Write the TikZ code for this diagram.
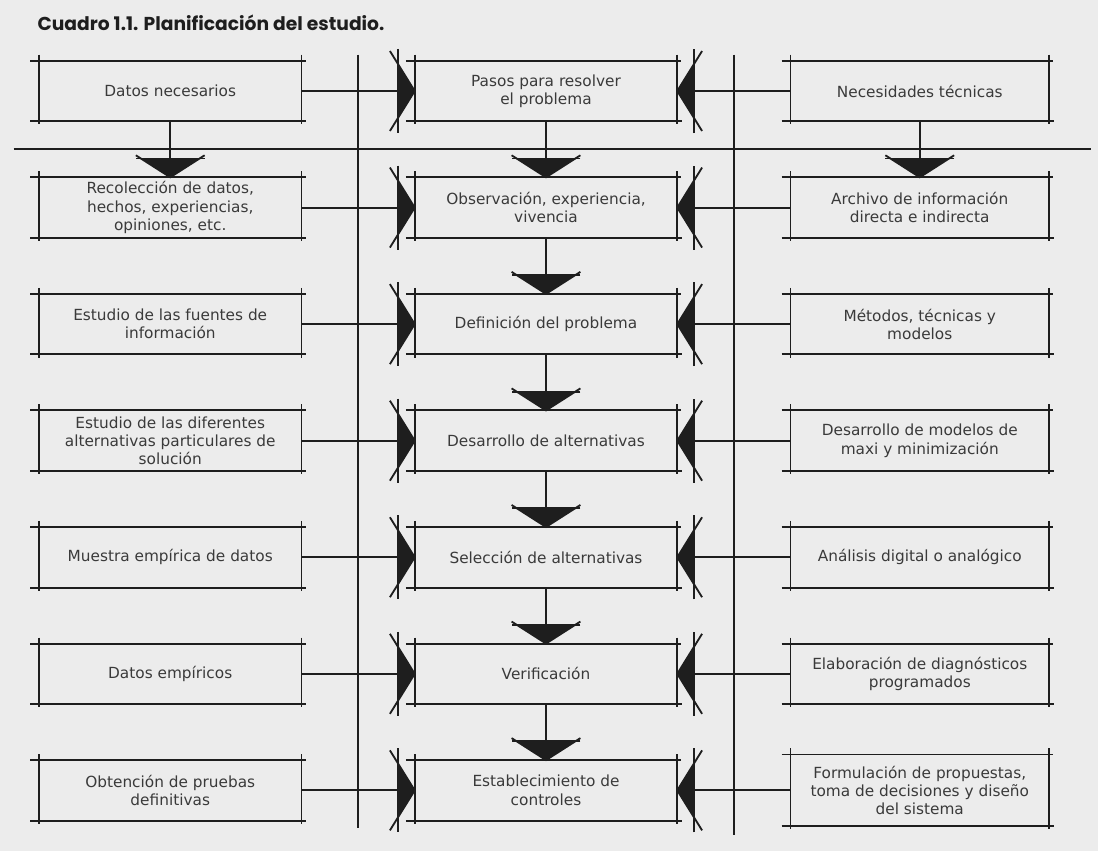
\documentclass[tikz,border=0pt]{standalone}
\usepackage{fontspec}
\setmainfont{DejaVu Sans}
\newfontfamily\titlefont{Poppins}
\usetikzlibrary{positioning, calc, decorations.markings}

\definecolor{paper}{HTML}{ECECEC}
\definecolor{ink}{HTML}{1E1E1E}
\definecolor{print}{HTML}{3A3A3A}

\tikzset{
	pics/sidetip/.style={code={
		\fill[ink] (0,0) -- (-0.42,0.68) -- (-0.42,-0.68) -- cycle;
		\draw[ink, line width=1.3pt] (-0.42,1.05) -- (-0.42,-1.05);
		\draw[ink, line width=1.3pt] (-0.62,1.0) -- (0,0) -- (-0.62,-1.0);
	}},
	pics/downtip/.style={code={
		\fill[ink] (0,0) -- (-0.47,0.72) -- (-0.47,-0.72) -- cycle;
		\draw[ink, line width=1.3pt] (-0.47,0.86) -- (-0.47,-0.86);
		\draw[ink, line width=1.3pt] (-0.55,0.86) -- (0,0) -- (-0.55,-0.86);
	}},
}

\begin{document}
\begin{tikzpicture}[
		node distance=1.4cm and 2.83cm
		,box/.style={minimum width=6.55cm, minimum height=1.5cm, inner sep=2pt, align=center, text=print, font=\fontsize{10.9}{13}\selectfont}
		,rule/.style={ink, line width=1.4pt}
		,feed/.style={rule, postaction={decorate}, decoration={markings, mark=at position 1 with {\pic[transform shape]{sidetip};}}}
		,flow/.style={rule, postaction={decorate}, decoration={markings, mark=at position 1 with {\pic[transform shape]{downtip};}}}
	]
		\fill[paper] (-13.65,2.275) rectangle (13.8,-19.0);
		\useasboundingbox (-13.65,2.275) rectangle (13.8,-19.0);

		% middle column
		\node[box] (M1) {Pasos para resolver\\el problema};
		\node[box, below=of M1] (M2) {Observación, experiencia,\\vivencia};
		\node[box, below=of M2] (M3) {Definición del problema};
		\node[box, below=of M3] (M4) {Desarrollo de alternativas};
		\node[box, below=of M4] (M5) {Selección de alternativas};
		\node[box, below=of M5] (M6) {Verificación};
		\node[box, below=of M6] (M7) {Establecimiento de\\controles};

		% left column
		\node[box, left=of M1] (L1) {Datos necesarios};
		\node[box, left=of M2] (L2) {Recolección de datos,\\hechos, experiencias,\\opiniones, etc.};
		\node[box, left=of M3] (L3) {Estudio de las fuentes de\\información};
		\node[box, left=of M4] (L4) {Estudio de las diferentes\\alternativas particulares de\\solución};
		\node[box, left=of M5] (L5) {Muestra empírica de datos};
		\node[box, left=of M6] (L6) {Datos empíricos};
		\node[box, left=of M7] (L7) {Obtención de pruebas\\definitivas};

		% right column
		\tikzset{box/.append style={minimum width=6.45cm}}
		\node[box, right=of M1] (R1) {Necesidades técnicas};
		\node[box, right=of M2] (R2) {Archivo de información\\directa e indirecta};
		\node[box, right=of M3] (R3) {Métodos, técnicas y\\modelos};
		\node[box, right=of M4] (R4) {Desarrollo de modelos de\\maxi y minimización};
		\node[box, right=of M5] (R5) {Análisis digital o analógico};
		\node[box, right=of M6] (R6) {Elaboración de diagnósticos\\programados};
		\node[box, right=of M7, minimum height=1.78cm] (R7) {Formulación de propuestas,\\toma de decisiones y diseño\\del sistema};

		\node[anchor=west, inner sep=0pt, text=ink, font=\titlefont\bfseries\fontsize{13.3}{15}\selectfont] (title)
			at ([xshift=-0.04cm, yshift=0.95cm]L1.north west) {Cuadro 1.1. Planificación del estudio.};

		% hand drawn frames
		\foreach \c in {L,M,R}
			\foreach \i in {1,...,7} {
				\draw[rule] ([xshift=-0.22cm]\c\i.north west) -- ([xshift=0.1cm]\c\i.north east);
				\draw[rule] ([xshift=-0.22cm]\c\i.south west) -- ([xshift=0.12cm]\c\i.south east);
				\draw[rule] ([yshift=0.15cm]\c\i.north west) -- ([yshift=-0.08cm]\c\i.south west);
				\draw[rule] ([yshift=0.15cm]\c\i.north east) -- ([yshift=-0.08cm]\c\i.south east);
			}

		% dividers
		\coordinate (divL top) at ($(L1.north east)!0.5!(M1.north west)+(0,0.15)$);
		\coordinate (divL bot) at ($(L7.south east)!0.5!(M7.south west)+(0,-0.18)$);
		\coordinate (divR top) at ($(M1.north east)!0.5!(R1.north west)+(0,0.15)$);
		\coordinate (divR bot) at ($(M7.south east)!0.5!(R7.south west)+(0,-0.3)$);
		\coordinate (rule W) at ($(L1.south west)!0.5!(L2.north west)+(-0.63,0)$);
		\coordinate (rule E) at ($(R1.south east)!0.5!(R2.north east)+(1.05,0)$);
		\draw[rule] (divL top) -- (divL bot);
		\draw[rule] (divR top) -- (divR bot);
		\draw[rule] (rule W) -- (rule E);

		% connectors
		\foreach \i in {1,...,7} {
			\draw[feed] (L\i.east) -- (M\i.west);
			\draw[feed] (R\i.west) -- (M\i.east);
		}
		\foreach \i [count=\j from 2] in {1,...,6}
			\draw[flow] (M\i.south) -- (M\j.north);
		\draw[flow] (L1.south) -- (L2.north);
		\draw[flow] (R1.south) -- (R2.north);
	\end{tikzpicture}
\end{document}
